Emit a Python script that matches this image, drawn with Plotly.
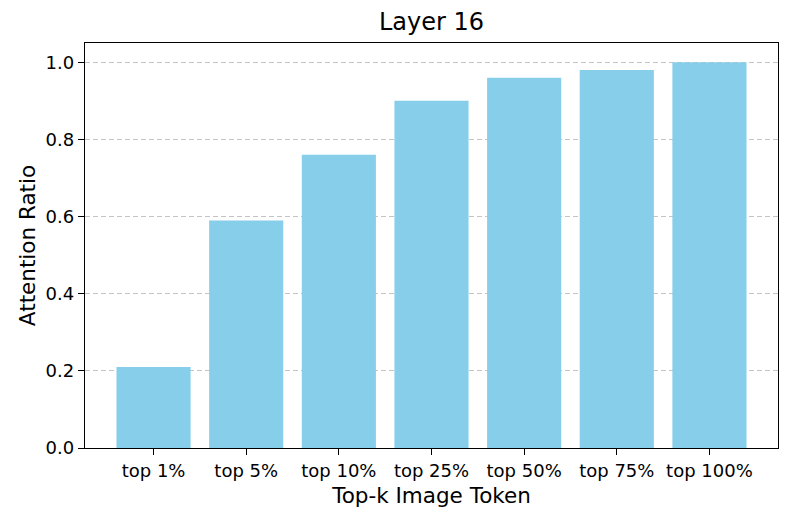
import plotly.graph_objects as go

categories = ["top 1%", "top 5%", "top 10%", "top 25%", "top 50%", "top 75%", "top 100%"]
ratios = [0.21, 0.59, 0.76, 0.90, 0.96, 0.98, 1.00]
y_ticks = [0.0, 0.2, 0.4, 0.6, 0.8, 1.0]

FONT = "DejaVu Sans"
# page body adds an 8px margin, so the figure is shrunk and offsets adjusted
W, H = 784, 514

fig = go.Figure(
    go.Bar(
        x=list(range(len(categories))),
        y=ratios,
        width=0.8,
        marker=dict(color="#87CEEB", line=dict(width=0)),
    )
)

fig.update_layout(
    width=W,
    height=H,
    margin=dict(l=77, r=14, t=35, b=74),
    paper_bgcolor="white",
    plot_bgcolor="white",
    font=dict(family=FONT, color="black", size=18),
    showlegend=False,
    title=dict(
        text="Layer 16",
        x=(77 + (W - 77 - 14) / 2) / W,
        xanchor="center",
        y=1 - 14 / H,
        yanchor="middle",
        font=dict(size=24, family=FONT, color="black"),
    ),
)

fig.update_xaxes(
    range=[-0.74, 6.74],
    tickmode="array",
    tickvals=list(range(len(categories))),
    ticktext=categories,
    ticks="outside",
    ticklen=6,
    tickwidth=1.2,
    tickcolor="black",
    showline=True,
    linecolor="black",
    linewidth=1.4,
    mirror=True,
    showgrid=False,
    zeroline=False,
    automargin=False,
    tickfont=dict(size=18),
    title=dict(text="Top-k Image Token", font=dict(size=21.5), standoff=8),
)

fig.update_yaxes(
    range=[0, 1.05],
    tickmode="array",
    tickvals=y_ticks,
    ticktext=[f"{v:.1f}" for v in y_ticks],
    ticks="outside",
    ticklen=6,
    tickwidth=1.2,
    tickcolor="black",
    showline=True,
    linecolor="black",
    linewidth=1.4,
    mirror=True,
    showgrid=True,
    gridcolor="#c4c4c4",
    gridwidth=1,
    griddash="5px,3px",
    zeroline=False,
    automargin=False,
    tickfont=dict(size=18),
    title=dict(text="Attention Ratio", font=dict(size=21.5), standoff=4),
)

fig.write_html("out.html")
